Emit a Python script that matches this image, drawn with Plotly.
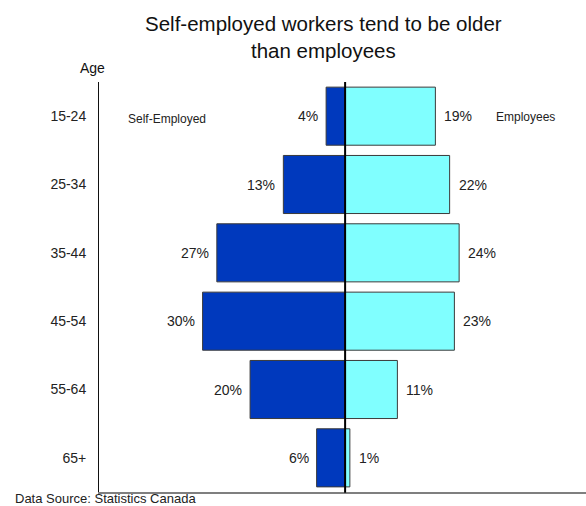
import plotly.graph_objects as go

# Age distribution (% of each group)
age_groups = ["15-24", "25-34", "35-44", "45-54", "55-64", "65+"]
self_employed = [4, 13, 27, 30, 20, 6]
employees = [19, 22, 24, 23, 11, 1]

FONT = "Liberation Sans, Arial, sans-serif"
DARK_BLUE = "#0039BD"
CYAN = "#80FFFF"
OUTLINE = "#3a3a3a"

W, H = 586, 506
L, R, T, B = 99, 0, 82, 14
pw, ph = W - L - R, H - T - B


def px_to_paper(px, py):
    """Convert page pixel coordinates to plot-area paper coordinates."""
    return (px - L) / pw, (H - B - py) / ph


fig = go.Figure()

fig.add_trace(go.Bar(
    y=age_groups,
    x=[-v for v in self_employed],
    orientation="h",
    marker=dict(color=DARK_BLUE, line=dict(color=OUTLINE, width=1)),
    name="Self-Employed",
    hoverinfo="skip",
))
fig.add_trace(go.Bar(
    y=age_groups,
    x=employees,
    orientation="h",
    marker=dict(color=CYAN, line=dict(color=OUTLINE, width=1)),
    name="Employees",
    hoverinfo="skip",
))

annotations = []
for grp, se, em in zip(age_groups, self_employed, employees):
    annotations.append(dict(
        x=-se, y=grp, xref="x", yref="y", text=f"{se}%",
        showarrow=False, xanchor="right", yanchor="middle", xshift=-6,
        font=dict(family=FONT, size=14, color="#222"),
    ))
    annotations.append(dict(
        x=em, y=grp, xref="x", yref="y", text=f"{em}%",
        showarrow=False, xanchor="left", yanchor="middle", xshift=7,
        font=dict(family=FONT, size=14, color="#222"),
    ))

# Group labels inside the top row
annotations.append(dict(
    x=-37.5, y=age_groups[0], xref="x", yref="y", text="Self-Employed",
    showarrow=False, xanchor="center", yanchor="middle", yshift=-3,
    font=dict(family=FONT, size=12, color="#222"),
))
annotations.append(dict(
    x=38.0, y=age_groups[0], xref="x", yref="y", text="Employees",
    showarrow=False, xanchor="center", yanchor="middle", yshift=-1,
    font=dict(family=FONT, size=12, color="#222"),
))

# Title
tx, ty = px_to_paper(323, 37)
annotations.append(dict(
    x=tx, y=ty, xref="paper", yref="paper",
    text="Self-employed workers tend to be older<br>than employees",
    showarrow=False, xanchor="center", yanchor="middle",
    font=dict(family=FONT, size=20.5, color="#111"),
))

# Axis caption
ax_, ay_ = px_to_paper(92, 68)
annotations.append(dict(
    x=ax_, y=ay_, xref="paper", yref="paper", text="Age",
    showarrow=False, xanchor="center", yanchor="middle",
    font=dict(family=FONT, size=14, color="#111"),
))

# Source note
sx, sy = px_to_paper(13, 498)
annotations.append(dict(
    x=sx, y=sy, xref="paper", yref="paper", text="Data Source: Statistics Canada",
    showarrow=False, xanchor="left", yanchor="middle",
    font=dict(family=FONT, size=13, color="#222"),
))

fig.update_layout(
    width=W, height=H,
    margin=dict(l=L, r=R, t=T, b=B),
    paper_bgcolor="white", plot_bgcolor="white",
    barmode="overlay", bargap=0.15,
    showlegend=False,
    xaxis=dict(
        range=[-51.8, 50.7], showgrid=False, zeroline=False,
        showticklabels=False, ticks="",
        showline=True, linecolor="#7f7f7f", linewidth=2,
    ),
    yaxis=dict(
        categoryorder="array", categoryarray=age_groups,
        autorange="reversed", showgrid=False, zeroline=False,
        ticks="", ticklabelstandoff=9,
        showline=True, linecolor="#111", linewidth=1,
        tickfont=dict(family=FONT, size=14, color="#222"),
    ),
    annotations=annotations,
    shapes=[dict(
        type="line", xref="x", yref="paper", x0=0, x1=0, y0=-0.002, y1=1,
        line=dict(color="black", width=2),
    )],
)

fig.write_html("out.html")
